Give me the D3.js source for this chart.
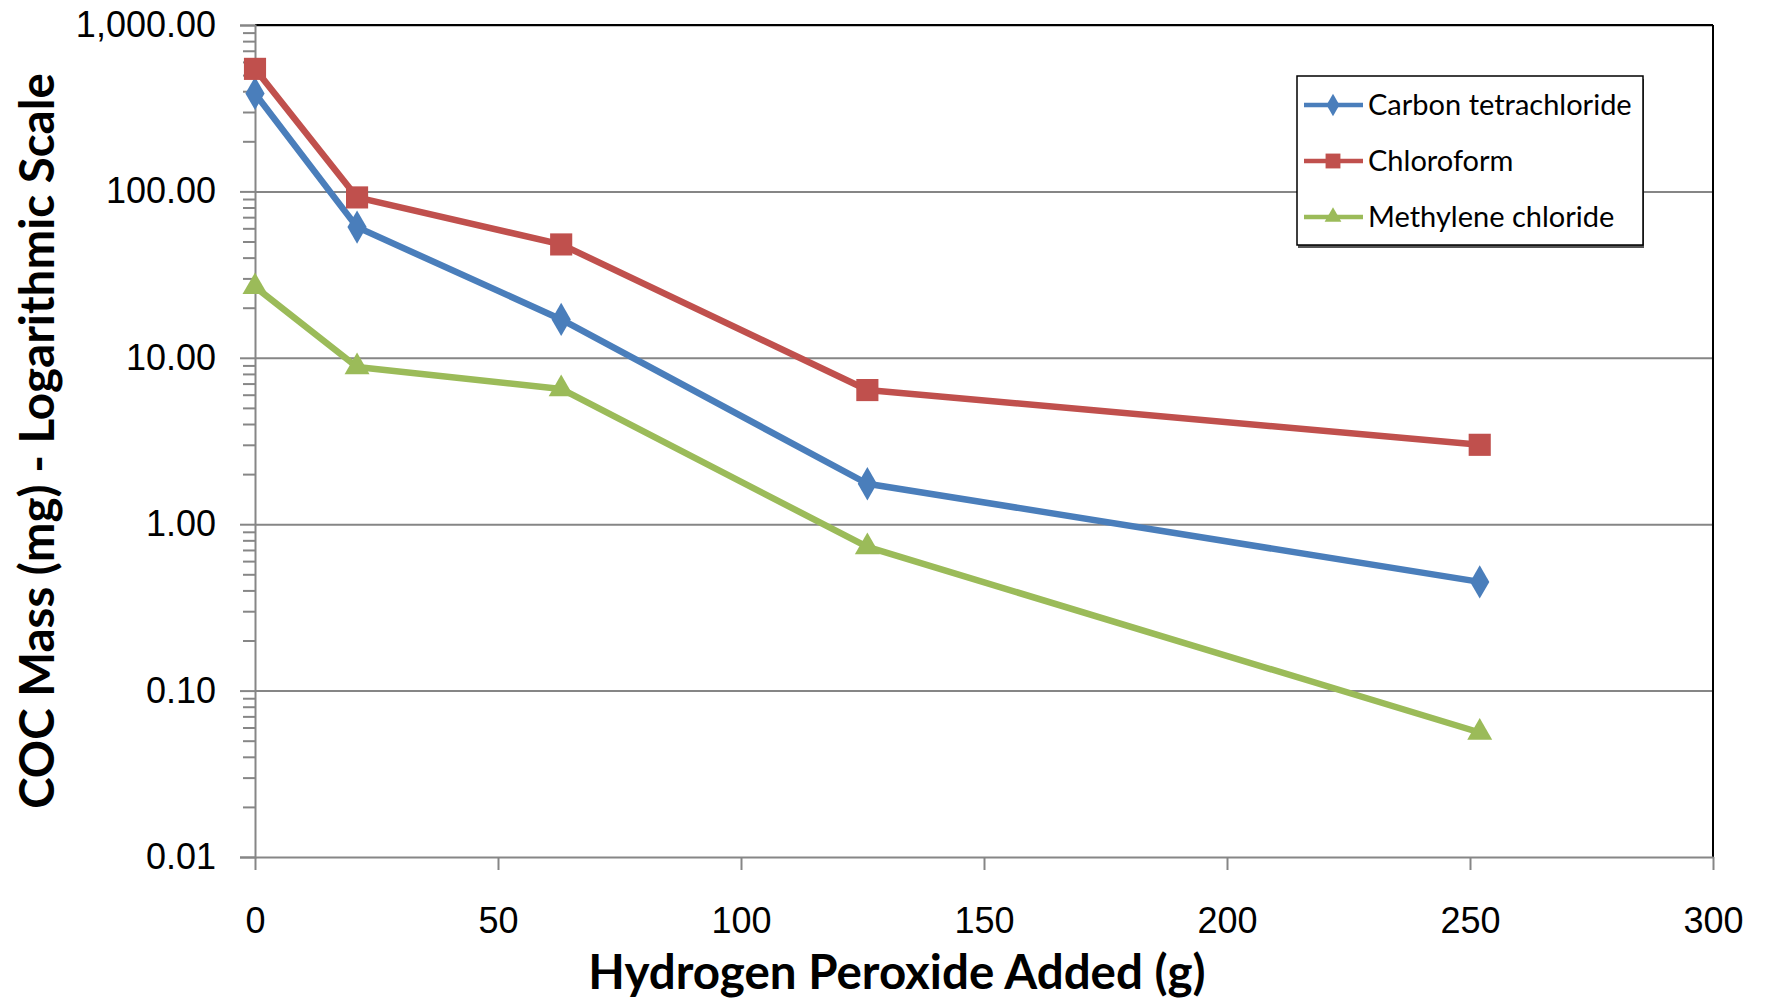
<!DOCTYPE html>
<meta charset="utf-8">
<script src="https://d3js.org/d3.v7.min.js"></script>
<style>
    body { margin: 0; background: #fff; }
    svg { display: block; font-family: Lato, "Open Sans", sans-serif; }
    .axis path, .axis line { stroke: #868686; stroke-width: 2; }
    .axis text { font-size: 36px; fill: #000; }
    .grid line { stroke: #868686; stroke-width: 2; }
    .grid path { display: none; }
    .series { fill: none; stroke-width: 6.5; stroke-linejoin: round; }
    .title { font-weight: bold; font-size: 47.5px; fill: #000; }
    .legend text { font-size: 29px; fill: #000; }
</style>
<div id="chart"></div>
<script>
// H2O2 dose (g) and COC mass (mg)
const peroxide = [0, 21, 63, 126, 252];
const carbonTet = [388, 61, 17, 1.75, 0.45];
const chloroform = [545, 92, 48, 6.4, 3.0];
const methylene = [26.7, 8.8, 6.5, 0.73, 0.056];

const seriesNames = ["Carbon tetrachloride", "Chloroform", "Methylene chloride"];
const seriesColors = ["#4A7EBB", "#C0504D", "#9BBB59"];
const seriesShapes = ["diamond", "square", "triangle"];

const xTicks = [0, 50, 100, 150, 200, 250, 300];
const yTicks = [0.01, 0.1, 1, 10, 100, 1000];

const W = 1765, H = 1001;
const margin = {top: 25, right: 52, bottom: 144, left: 255};
const width = W - margin.left - margin.right,
    height = H - margin.top - margin.bottom;

const x = d3.scaleLinear().domain([0, 300]).range([0, width]);
const y = d3.scaleLog().domain([0.01, 1000]).range([height, 0]);

const svg = d3.select("#chart").append("svg")
    .attr("width", W)
    .attr("height", H);

const g = svg.append("g")
    .attr("transform", "translate(" + margin.left + "," + margin.top + ")");

// horizontal gridlines
g.append("g").attr("class", "grid")
    .call(d3.axisLeft(y).tickValues(yTicks.slice(1)).tickSize(-width).tickFormat(""));

// top + right border of plot area
g.append("line").attr("x1", 0).attr("x2", width).attr("y1", 0).attr("y2", 0)
    .attr("stroke", "#000").attr("stroke-width", 2);
g.append("line").attr("x1", width).attr("x2", width).attr("y1", 0).attr("y2", height)
    .attr("stroke", "#000").attr("stroke-width", 2);

// minor log ticks
const minor = [];
yTicks.slice(0, -1).forEach(d => { for (let k = 2; k <= 9; k++) minor.push(d * k); });
g.append("g").attr("class", "axis")
    .call(d3.axisLeft(y).tickValues(minor).tickSize(12).tickFormat(""))
    .select(".domain").remove();

g.append("g").attr("class", "axis y_axis")
    .call(d3.axisLeft(y).tickValues(yTicks).tickSize(15).tickPadding(24).tickFormat(d3.format(",.2f")));

g.append("g").attr("class", "axis x_axis")
    .attr("transform", "translate(0," + height + ")")
    .call(d3.axisBottom(x).tickValues(xTicks).tickSize(13).tickPadding(37).tickSizeOuter(0));

const symbolType = {diamond: d3.symbolDiamond, square: d3.symbolSquare, triangle: d3.symbolTriangle};
const symbolSize = {diamond: 320, square: 490, triangle: 270};

const line = d3.line().x((d, i) => x(peroxide[i])).y(d => y(d));

[carbonTet, chloroform, methylene].forEach((vals, s) => {
    g.append("path")
        .datum(vals)
        .attr("class", "series")
        .attr("stroke", seriesColors[s])
        .attr("d", line);
    g.selectAll(".pt" + s)
        .data(vals)
        .enter().append("path")
        .attr("class", "pt" + s)
        .attr("transform", (d, i) => "translate(" + x(peroxide[i]) + "," + y(d) + ")")
        .attr("d", d3.symbol().type(symbolType[seriesShapes[s]]).size(symbolSize[seriesShapes[s]]))
        .attr("fill", seriesColors[s]);
});

// legend
const legend = svg.append("g").attr("class", "legend").attr("transform", "translate(1297,76)");
legend.append("rect").attr("x", 1).attr("y", 3).attr("width", 346).attr("height", 169).attr("fill", "#555");
legend.append("rect").attr("width", 346).attr("height", 169)
    .attr("fill", "#fff").attr("stroke", "#000").attr("stroke-width", 1.5);

seriesNames.forEach((name, s) => {
    const row = legend.append("g").attr("transform", "translate(0," + (29 + s * 56) + ")");
    row.append("line").attr("x1", 7).attr("x2", 66).attr("y1", 0).attr("y2", 0)
        .attr("stroke", seriesColors[s]).attr("stroke-width", 4.5);
    row.append("path")
        .attr("transform", "translate(36,0)")
        .attr("d", d3.symbol().type(symbolType[seriesShapes[s]]).size(symbolSize[seriesShapes[s]] * 0.45))
        .attr("fill", seriesColors[s]);
    row.append("text").attr("x", 71).attr("dy", "0.35em").text(name);
});

// axis titles
svg.append("text").attr("class", "title")
    .attr("x", 897).attr("y", 989)
    .attr("text-anchor", "middle")
    .text("Hydrogen Peroxide Added (g)");

svg.append("text").attr("class", "title")
    .attr("transform", "translate(54," + (margin.top + height / 2) + ") rotate(-90)")
    .attr("text-anchor", "middle")
    .text("COC Mass (mg) - Logarithmic Scale");
</script>
